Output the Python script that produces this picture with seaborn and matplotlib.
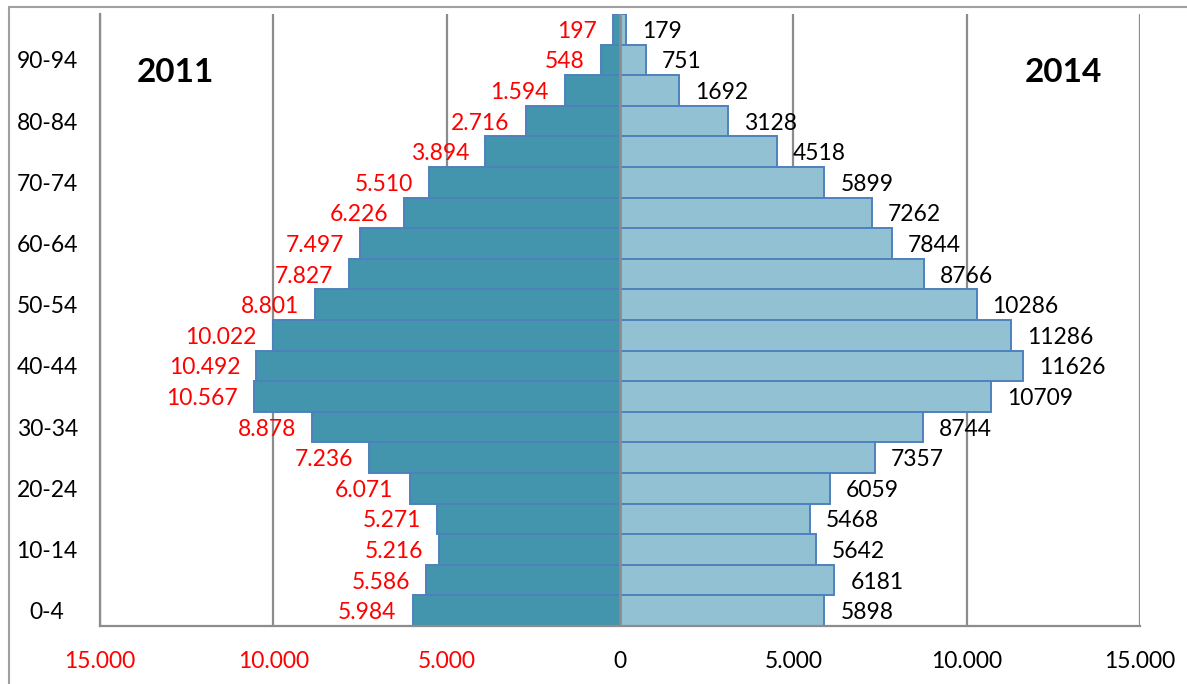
import matplotlib
matplotlib.use("Agg")
import matplotlib.pyplot as plt
from matplotlib.lines import Line2D
import seaborn as sns
import pandas as pd

# Age groups, youngest first
age_groups = ["0-4", "5-9", "10-14", "15-19", "20-24", "25-29", "30-34", "35-39",
              "40-44", "45-49", "50-54", "55-59", "60-64", "65-69", "70-74",
              "75-79", "80-84", "85-89", "90-94", "95+"]
pop_2011 = [5984, 5586, 5216, 5271, 6071, 7236, 8878, 10567, 10492, 10022,
            8801, 7827, 7497, 6226, 5510, 3894, 2716, 1594, 548, 197]
pop_2014 = [5898, 6181, 5642, 5468, 6059, 7357, 8744, 10709, 11626, 11286,
            10286, 8766, 7844, 7262, 5899, 4518, 3128, 1692, 751, 179]
x_ticks = [-15000, -10000, -5000, 0, 5000, 10000, 15000]

df = pd.DataFrame({"age": age_groups, "y2011": pop_2011, "y2014": pop_2014})
df["left"] = -df["y2011"]
order = age_groups[::-1]  # oldest at the top

sns.set_theme(style="white")
plt.rcParams["font.family"] = ["Lato", "DejaVu Sans"]
plt.rcParams["text.color"] = "black"
plt.rcParams["xtick.color"] = "black"
plt.rcParams["ytick.color"] = "black"

W, H = 1187, 684
fig = plt.figure(figsize=(W / 100, H / 100), dpi=100)
ax = fig.add_axes([100 / W, 58 / H, 1040 / W, 612 / H])

grid_c = "#8c8c8c"
for xv in x_ticks:
    if xv != 0:
        ax.axvline(xv, color=grid_c, lw=1.6, zorder=0)

edge = "#4f81bd"
sns.barplot(data=df, x="left", y="age", order=order, orient="h", width=1.0,
            color="#4395ad", saturation=1, edgecolor=edge, linewidth=1.4,
            ax=ax, zorder=2)
sns.barplot(data=df, x="y2014", y="age", order=order, orient="h", width=1.0,
            color="#92c1d3", saturation=1, edgecolor=edge, linewidth=1.4,
            ax=ax, zorder=2)
ax.axvline(0, color=grid_c, lw=2.0, zorder=3)

ax.set_xlim(-15000, 15000)
ax.set_ylim(len(order) - 0.5, -0.5)

def dotted(v):
    return f"{abs(v):,}".replace(",", ".")

fs = 16.5
for i, age in enumerate(order):
    row = df[df["age"] == age].iloc[0]
    ax.annotate(dotted(row["y2011"]), xy=(-row["y2011"], i), xytext=(-16, -2),
                textcoords="offset pixels", ha="right", va="center",
                color="#ff0000", fontsize=fs)
    ax.annotate(str(row["y2014"]), xy=(row["y2014"], i), xytext=(16, -2),
                textcoords="offset pixels", ha="left", va="center",
                color="black", fontsize=fs)

# y ticks: every other age group
ax.set_yticks(range(len(order)))
ax.set_yticklabels([a if (age_groups.index(a) % 2 == 0 and a != "95+") else ""
                    for a in order], fontsize=fs)
for lab in ax.get_yticklabels():
    lab.set_horizontalalignment("center")
    lab.set_color("black")
ax.tick_params(axis="y", length=0, pad=38)

ax.set_xticks(x_ticks)
ax.set_xticklabels([dotted(v) for v in x_ticks], fontsize=fs)
for v, lab in zip(x_ticks, ax.get_xticklabels()):
    lab.set_color("#ff0000" if v < 0 else "black")
ax.tick_params(axis="x", length=0, pad=18)

ax.set_xlabel("")
ax.set_ylabel("")
for s in ["top", "right"]:
    ax.spines[s].set_visible(False)
for s in ["left", "bottom"]:
    ax.spines[s].set_color(grid_c)
    ax.spines[s].set_linewidth(1.6)

fig.text(175 / W, 1 - 72 / H, "2011", ha="center", va="center",
         fontsize=24, fontweight="bold", color="black")
fig.text(1063 / W, 1 - 72 / H, "2014", ha="center", va="center",
         fontsize=24, fontweight="bold", color="black")

# outer frame
fig.add_artist(Line2D([9 / W, 9 / W], [0, 1 - 7 / H], transform=fig.transFigure,
                      color="#a0a0a0", lw=1.5))
fig.add_artist(Line2D([9 / W, 1], [1 - 7 / H, 1 - 7 / H], transform=fig.transFigure,
                      color="#a0a0a0", lw=1.5))

fig.savefig("out.png", dpi=100, facecolor="white")
